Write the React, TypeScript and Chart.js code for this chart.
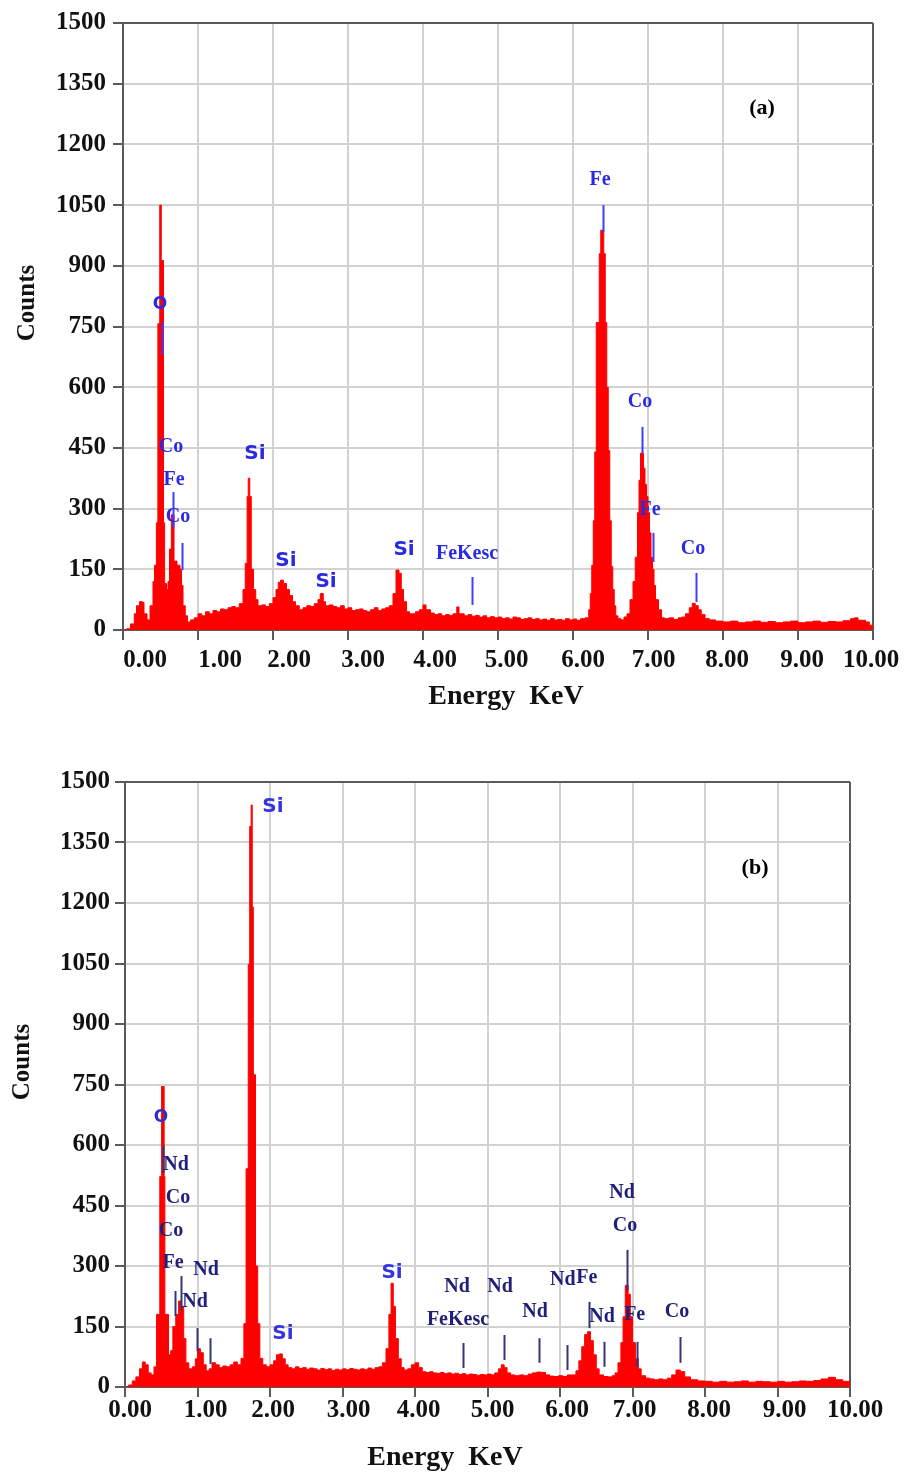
import React, { useEffect, useRef } from 'react';
import { Chart, registerables } from 'chart.js';

Chart.register(...registerables);

// ---------- axes ----------
const energyTicks = [0, 1, 2, 3, 4, 5, 6, 7, 8, 9, 10];
const energyTickLabels = energyTicks.map((v) => v.toFixed(2));
const countMax = 1500;
const countStep = 150;

// ---------- spectrum (a) ----------
const energyA = [
  0, 0.05, 0.10, 0.15, 0.18, 0.22, 0.26, 0.28, 0.32, 0.36,
  0.40, 0.42, 0.445, 0.465, 0.49, 0.51, 0.54, 0.555, 0.58, 0.60,
  0.62, 0.645, 0.68, 0.72, 0.76, 0.78, 0.80, 0.83, 0.86, 0.90,
  0.95, 1.00, 1.05, 1.10, 1.15, 1.20, 1.25, 1.30, 1.35, 1.40,
  1.45, 1.50, 1.55, 1.60, 1.63, 1.655, 1.67, 1.69, 1.71, 1.74,
  1.77, 1.80, 1.85, 1.90, 1.95, 2.00, 2.04, 2.07, 2.10, 2.14,
  2.18, 2.22, 2.26, 2.30, 2.35, 2.40, 2.45, 2.50, 2.55, 2.60,
  2.63, 2.67, 2.70, 2.75, 2.80, 2.85, 2.90, 2.95, 3.00, 3.05,
  3.10, 3.15, 3.20, 3.25, 3.30, 3.35, 3.40, 3.45, 3.50, 3.55,
  3.60, 3.64, 3.68, 3.71, 3.74, 3.78, 3.82, 3.90, 3.95, 4.00,
  4.04, 4.10, 4.15, 4.20, 4.25, 4.30, 4.35, 4.40, 4.45, 4.48,
  4.55, 4.60, 4.65, 4.70, 4.75, 4.80, 4.85, 4.90, 4.95, 5.00,
  5.05, 5.10, 5.15, 5.20, 5.25, 5.30, 5.35, 5.40, 5.45, 5.50,
  5.55, 5.60, 5.65, 5.70, 5.75, 5.80, 5.85, 5.90, 5.95, 6.00,
  6.05, 6.10, 6.16, 6.21, 6.23, 6.25, 6.27, 6.29, 6.31, 6.35,
  6.37, 6.41, 6.43, 6.45, 6.47, 6.49, 6.51, 6.53, 6.55, 6.57,
  6.60, 6.64, 6.68, 6.72, 6.76, 6.80, 6.83, 6.86, 6.88, 6.90,
  6.94, 6.96, 6.98, 7.00, 7.02, 7.04, 7.06, 7.08, 7.10, 7.14,
  7.18, 7.22, 7.28, 7.34, 7.40, 7.45, 7.50, 7.55, 7.59, 7.63,
  7.67, 7.71, 7.76, 7.82, 7.90, 8.00, 8.10, 8.20, 8.30, 8.40,
  8.50, 8.60, 8.70, 8.80, 8.90, 9.00, 9.10, 9.20, 9.30, 9.40,
  9.50, 9.60, 9.70, 9.75, 9.80, 9.90, 9.95, 10.00,
];
const countsA = [
  0, 3, 15, 40, 60, 70, 68, 40, 25, 60,
  120, 160, 265, 757, 1050, 913, 265, 115, 100, 120,
  200, 285, 170, 160, 150, 110, 60, 35, 20, 25,
  30, 40, 35, 45, 40, 48, 45, 52, 50, 55,
  58, 55, 65, 100, 165, 330, 375, 330, 150, 100,
  75, 60, 62, 58, 65, 80, 100, 118, 123, 115,
  100, 85, 70, 60, 50, 55, 60, 58, 65, 75,
  90, 70, 60, 62, 58, 55, 60, 52, 55, 48,
  50, 52, 48, 45, 50, 55, 48, 52, 55, 60,
  90, 148, 140, 100, 70, 45, 40, 45, 50, 62,
  50, 42, 38, 40, 35, 38, 36, 40, 57, 40,
  35, 38, 34, 36, 32, 35, 30, 33, 30, 32,
  28, 30, 27, 32, 30, 26, 28, 30, 26, 28,
  25, 27, 24, 28, 25, 26, 24, 28, 25, 27,
  24, 28, 30, 50, 90, 160, 270, 440, 760, 930,
  988, 930, 760, 600, 444, 270, 157, 100, 60, 35,
  28, 25, 32, 40, 75, 120, 180, 290, 370, 437,
  400, 360, 330, 290, 240, 180, 150, 110, 75, 50,
  30, 28, 30, 26, 30, 32, 40, 55, 66, 60,
  50, 38, 28, 25, 22, 20, 22, 18, 20, 22,
  19, 21, 18, 20, 22, 18, 20, 22, 19, 21,
  20, 23, 28, 30, 24, 20, 12, 5,
];

// ---------- spectrum (b) ----------
const energyB = [
  0, 0.05, 0.10, 0.15, 0.20, 0.24, 0.28, 0.32, 0.36, 0.40,
  0.435, 0.48, 0.505, 0.54, 0.55, 0.60, 0.63, 0.66, 0.70, 0.74,
  0.78, 0.81, 0.84, 0.88, 0.93, 0.97, 1.00, 1.04, 1.08, 1.12,
  1.16, 1.20, 1.25, 1.30, 1.35, 1.40, 1.45, 1.50, 1.55, 1.60,
  1.64, 1.67, 1.70, 1.72, 1.74, 1.755, 1.77, 1.80, 1.83, 1.86,
  1.90, 1.95, 2.00, 2.05, 2.09, 2.13, 2.17, 2.21, 2.25, 2.30,
  2.35, 2.40, 2.45, 2.50, 2.55, 2.60, 2.65, 2.70, 2.75, 2.80,
  2.85, 2.90, 2.95, 3.00, 3.05, 3.10, 3.15, 3.20, 3.25, 3.30,
  3.35, 3.40, 3.45, 3.50, 3.55, 3.60, 3.64, 3.67, 3.70, 3.73,
  3.77, 3.81, 3.85, 3.90, 3.95, 4.00, 4.05, 4.10, 4.15, 4.20,
  4.25, 4.30, 4.35, 4.40, 4.45, 4.50, 4.55, 4.60, 4.65, 4.70,
  4.75, 4.80, 4.85, 4.90, 4.95, 5.00, 5.05, 5.10, 5.15, 5.19,
  5.23, 5.27, 5.32, 5.38, 5.44, 5.50, 5.56, 5.62, 5.68, 5.74,
  5.80, 5.86, 5.92, 5.98, 6.04, 6.10, 6.16, 6.22, 6.26, 6.30,
  6.34, 6.38, 6.42, 6.46, 6.50, 6.54, 6.60, 6.66, 6.72, 6.76,
  6.80, 6.84, 6.87, 6.90, 6.94, 6.97, 7.00, 7.04, 7.08, 7.12,
  7.18, 7.24, 7.30, 7.36, 7.42, 7.48, 7.54, 7.60, 7.66, 7.72,
  7.80, 7.90, 8.00, 8.10, 8.20, 8.30, 8.40, 8.50, 8.60, 8.70,
  8.80, 8.90, 9.00, 9.10, 9.20, 9.30, 9.40, 9.50, 9.60, 9.70,
  9.80, 9.90, 10.00,
];
const countsB = [
  0, 5, 15, 25, 45, 62, 55, 35, 30, 50,
  180, 522, 745, 522, 180, 80, 90, 150, 180, 213,
  200, 120, 60, 45, 50, 70, 95, 85, 55, 40,
  45, 60, 55, 48, 52, 50, 55, 62, 55, 71,
  157, 541, 1048, 1390, 1443, 1190, 774, 300, 157, 71,
  55, 50, 55, 65, 80, 82, 70, 55, 48, 45,
  50, 46, 48, 44, 47, 45, 42, 46, 43, 45,
  41, 44, 42, 45, 43, 46, 44, 42, 45, 43,
  47, 44, 48, 50, 60, 95, 180, 257, 200, 120,
  70, 48, 42, 45, 55, 60, 48, 38, 36, 38,
  35, 34, 36, 33, 35, 32, 34, 31, 33, 30,
  32, 31, 29, 31, 30, 32, 30, 35, 45, 55,
  48, 35, 30, 28, 30, 28, 32, 35, 37, 36,
  30, 27, 26, 28, 26, 30, 30, 40, 65, 100,
  130, 137, 115, 80, 45, 30, 26, 25, 28, 35,
  60, 110, 174, 252, 230, 174, 110, 70, 45, 28,
  22, 20, 18, 20, 18, 22, 30, 42, 38, 25,
  18, 15, 14, 12, 14, 12, 13, 15, 12, 14,
  13, 12, 14, 12, 13, 15, 14, 16, 20, 24,
  18, 14, 8,
];

// ---------- peak identification (energy keV, counts) ----------
type PeakLabel = { text: string; e: number; c: number; style: 'serif' | 'sans' | 'ring'; color?: string };
type Marker = { e: number; from: number; to: number };

const peakLabelsA: PeakLabel[] = [
  { text: 'O', e: 0.493, c: 803, style: 'ring' },
  { text: 'Co', e: 0.64, c: 452, style: 'serif' },
  { text: 'Fe', e: 0.68, c: 371, style: 'serif' },
  { text: 'Co', e: 0.733, c: 279, style: 'serif' },
  { text: 'Si', e: 1.76, c: 435, style: 'sans' },
  { text: 'Si', e: 2.173, c: 170, style: 'sans' },
  { text: 'Si', e: 2.707, c: 119, style: 'sans' },
  { text: 'Si', e: 3.747, c: 198, style: 'sans' },
  { text: 'FeKesc', e: 4.587, c: 188, style: 'serif' },
  { text: 'Fe', e: 6.36, c: 1112, style: 'serif' },
  { text: 'Co', e: 6.893, c: 563, style: 'serif' },
  { text: 'Fe', e: 7.027, c: 297, style: 'serif' },
  { text: 'Co', e: 7.6, c: 200, style: 'serif' },
];
const markersA: Marker[] = [
  { e: 0.525, from: 680, to: 760 },
  { e: 0.667, from: 252, to: 341 },
  { e: 0.787, from: 148, to: 215 },
  { e: 4.65, from: 62, to: 131 },
  { e: 6.4, from: 983, to: 1050 },
  { e: 6.925, from: 437, to: 502 },
  { e: 7.06, from: 168, to: 240 },
  { e: 7.64, from: 69, to: 141 },
];

const NAVY = '#20207a';
const SI_BLUE = '#3535e0';
const peakLabelsB: PeakLabel[] = [
  { text: 'Si', e: 2.04, c: 1438, style: 'sans', color: SI_BLUE },
  { text: 'O', e: 0.497, c: 667, style: 'ring', color: '#3030c8' },
  { text: 'Nd', e: 0.703, c: 550, style: 'serif' },
  { text: 'Co', e: 0.731, c: 469, style: 'serif' },
  { text: 'Co', e: 0.634, c: 387, style: 'serif' },
  { text: 'Fe', e: 0.662, c: 307, style: 'serif' },
  { text: 'Nd', e: 1.117, c: 290, style: 'serif' },
  { text: 'Nd', e: 0.966, c: 211, style: 'serif' },
  { text: 'Si', e: 3.683, c: 283, style: 'sans', color: SI_BLUE },
  { text: 'Si', e: 2.179, c: 131, style: 'sans', color: SI_BLUE },
  { text: 'Nd', e: 4.58, c: 248, style: 'serif' },
  { text: 'FeKesc', e: 4.593, c: 166, style: 'serif' },
  { text: 'Nd', e: 5.172, c: 248, style: 'serif' },
  { text: 'Nd', e: 5.655, c: 186, style: 'serif' },
  { text: 'Nd', e: 6.04, c: 265, style: 'serif' },
  { text: 'Fe', e: 6.37, c: 270, style: 'serif' },
  { text: 'Nd', e: 6.58, c: 174, style: 'serif' },
  { text: 'Nd', e: 6.855, c: 481, style: 'serif' },
  { text: 'Co', e: 6.897, c: 399, style: 'serif' },
  { text: 'Fe', e: 7.03, c: 178, style: 'serif' },
  { text: 'Co', e: 7.614, c: 186, style: 'serif' },
];
const markersB: Marker[] = [
  { e: 0.524, from: 531, to: 598 },
  { e: 0.69, from: 176, to: 238 },
  { e: 0.772, from: 191, to: 275 },
  { e: 0.993, from: 89, to: 146 },
  { e: 1.172, from: 57, to: 121 },
  { e: 4.66, from: 47, to: 109 },
  { e: 5.23, from: 67, to: 129 },
  { e: 5.71, from: 60, to: 121 },
  { e: 6.09, from: 42, to: 104 },
  { e: 6.4, from: 146, to: 211 },
  { e: 6.61, from: 50, to: 112 },
  { e: 6.92, from: 240, to: 340 },
  { e: 7.06, from: 50, to: 112 },
  { e: 7.65, from: 60, to: 124 },
];

// ---------- styling ----------
const SERIF = '"Liberation Serif", "Times New Roman", serif';
const SANS = '"DejaVu Sans", Verdana, sans-serif';
const DARK = '#5a5a5a';
const GRID = '#d2d2d2';

type Panel = {
  energies: number[];
  counts: number[];
  labels: PeakLabel[];
  markers: Marker[];
  tag: string;
  tagE: number;
  tagC: number;
  labelColor: string;
  markerColor: string;
  nudge: number[];
  xLabelDy: number;
  xTitleDx: number;
  xTitleDy: number;
  yTitleX: number;
  yTitleDy: number;
  padding: { left: number; right: number; top: number; bottom: number };
  yWidth: number;
  xHeight: number;
  yTickPad: number;
  canvasH: number;
  canvasTop: number;
};

const panelA: Panel = {
  energies: energyA,
  counts: countsA,
  labels: peakLabelsA,
  markers: markersA,
  tag: '(a)',
  tagE: 8.52,
  tagC: 1290,
  labelColor: '#2a2ae2',
  markerColor: '#3d3dff',
  nudge: [22, 22, 16, 15, 12, 8.5, 10, 5.5, 4, 4, -2],
  xLabelDy: 31,
  xTitleDx: 383,
  xTitleDy: 67,
  yTitleX: 28,
  yTitleDy: 280,
  padding: { left: 10, right: 42, top: 23, bottom: 0 },
  yWidth: 113,
  xHeight: 110,
  yTickPad: 7,
  canvasH: 740,
  canvasTop: 0,
};

const panelB: Panel = {
  energies: energyB,
  counts: countsB,
  labels: peakLabelsB,
  markers: markersB,
  tag: '(b)',
  tagE: 8.69,
  tagC: 1287,
  labelColor: NAVY,
  markerColor: '#34347a',
  nudge: [5, 8, 3, 6, 3.5, 5, 7, 2, 4, 7, 5],
  xLabelDy: 24,
  xTitleDx: 320,
  xTitleDy: 71,
  yTitleX: 23,
  yTitleDy: 280,
  padding: { left: 12, right: 65, top: 42, bottom: 0 },
  yWidth: 113,
  xHeight: 86,
  yTickPad: 5,
  canvasH: 733,
  canvasTop: 740,
};

function makeDecor(p: Panel) {
  return {
    id: 'decor' + p.tag,
    afterDraw(chart: any) {
      const { ctx, chartArea } = chart;
      const xs = chart.scales.x;
      const ys = chart.scales.y;
      ctx.save();
      ctx.textAlign = 'center';
      ctx.textBaseline = 'middle';

      // x tick labels
      ctx.fillStyle = '#111';
      ctx.font = `bold 25px ${SERIF}`;
      energyTicks.forEach((v, i) => {
        ctx.fillText(energyTickLabels[i], xs.getPixelForValue(v) + p.nudge[i], chartArea.bottom + p.xLabelDy);
      });

      // axis titles
      ctx.font = `bold 28px ${SERIF}`;
      ctx.fillText('Energy  KeV', chartArea.left + p.xTitleDx, chartArea.bottom + p.xTitleDy);
      ctx.save();
      ctx.translate(p.yTitleX, chartArea.top + p.yTitleDy);
      ctx.rotate(-Math.PI / 2);
      ctx.font = `bold 25px ${SERIF}`;
      ctx.fillText('Counts', 0, 0);
      ctx.restore();

      // markers
      ctx.strokeStyle = p.markerColor;
      ctx.lineWidth = 2;
      p.markers.forEach((m) => {
        const x = Math.round(xs.getPixelForValue(m.e)) + 0.5;
        ctx.beginPath();
        ctx.moveTo(x, ys.getPixelForValue(m.from));
        ctx.lineTo(x, ys.getPixelForValue(m.to));
        ctx.stroke();
      });

      // element labels
      p.labels.forEach((l) => {
        if (l.style === 'sans') ctx.font = `bold 20px ${SANS}`;
        else if (l.style === 'ring') ctx.font = `bold 17px ${SANS}`;
        else ctx.font = `bold 20px ${SERIF}`;
        ctx.fillStyle = l.color || p.labelColor;
        ctx.fillText(l.text, xs.getPixelForValue(l.e), ys.getPixelForValue(l.c));
      });

      // panel tag
      ctx.fillStyle = '#000';
      ctx.font = `bold 22px ${SERIF}`;
      ctx.fillText(p.tag, xs.getPixelForValue(p.tagE), ys.getPixelForValue(p.tagC));
      ctx.restore();
    },
  };
}

function SpectrumChart({ panel }: { panel: Panel }) {
  const ref = useRef<HTMLCanvasElement>(null);
  useEffect(() => {
    const canvas = ref.current;
    if (!canvas) return;
    const points = panel.energies.map((e, i) => ({ x: e, y: panel.counts[i] }));
    const chart = new Chart(canvas, {
      type: 'line',
      data: {
        datasets: [
          {
            data: points,
            stepped: true,
            fill: 'origin',
            backgroundColor: '#ff0000',
            borderColor: '#ff0000',
            borderWidth: 1,
            pointRadius: 0,
            tension: 0,
          },
        ],
      },
      options: {
        animation: false,
        responsive: false,
        devicePixelRatio: 1,
        layout: { padding: panel.padding },
        plugins: { legend: { display: false }, tooltip: { enabled: false } },
        scales: {
          x: {
            type: 'linear',
            min: 0,
            max: 10,
            ticks: { display: false, stepSize: 1 },
            grid: {
              lineWidth: 2,
              color: (c: any) => (c.tick && (c.tick.value === 10 || c.tick.value === 0) ? DARK : GRID),
              tickColor: DARK,
              tickLength: 10,
            },
            border: { color: DARK, width: 2 },
            afterFit: (s: any) => {
              s.height = panel.xHeight;
            },
          },
          y: {
            type: 'linear',
            min: 0,
            max: countMax,
            ticks: {
              stepSize: countStep,
              color: '#111',
              padding: panel.yTickPad,
              font: { family: SERIF, size: 25, weight: 'bold' },
              callback: (v: any) => String(v),
            },
            grid: {
              lineWidth: 2,
              color: (c: any) => (c.tick && c.tick.value === countMax ? DARK : GRID),
              tickColor: DARK,
              tickLength: 10,
            },
            border: { color: DARK, width: 2 },
            afterFit: (s: any) => {
              s.width = panel.yWidth;
            },
          },
        },
      },
      plugins: [makeDecor(panel)],
    } as any);
    return () => chart.destroy();
  }, [panel]);
  return (
    <canvas
      ref={ref}
      width={915}
      height={panel.canvasH}
      style={{ position: 'absolute', left: 0, top: panel.canvasTop, width: 915, height: panel.canvasH }}
    />
  );
}

export default function App() {
  return (
    <div style={{ position: 'absolute', left: 0, top: 0, width: 915, height: 1473, background: '#fff' }}>
      <SpectrumChart panel={panelA} />
      <SpectrumChart panel={panelB} />
    </div>
  );
}
